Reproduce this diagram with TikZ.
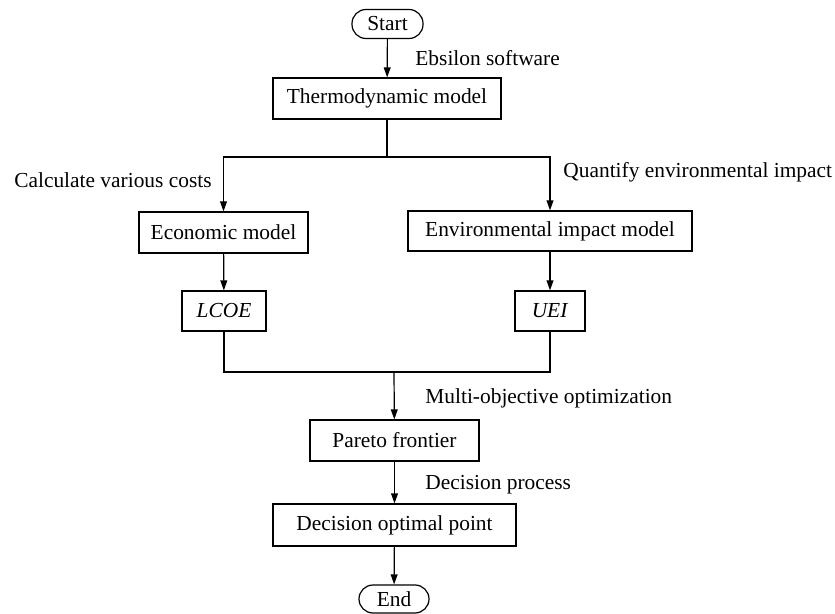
\documentclass[tikz,border=0pt]{standalone}
\usepackage{fontspec}
\setmainfont{Liberation Serif}
\usetikzlibrary{arrows.meta, positioning}

\begin{document}
\begin{tikzpicture}[
    x=0.5pt, y=-0.5pt,
    font=\fontsize{10.7}{13}\selectfont,
    box/.style={draw, line width=0.6pt, inner sep=0pt, text centered, minimum height=20.5pt},
    terminal/.style={draw, line width=0.6pt, inner sep=0pt, rounded corners=7pt, minimum height=14.5pt},
    label/.style={inner sep=0pt},
    arrow/.style={-{Triangle[length=5pt, width=3.4pt]}, line width=0.6pt},
    line/.style={line width=0.6pt}]

\useasboundingbox (0,0) rectangle (835,614);

\node[terminal, minimum width=35.5pt] (start) at (387.5,24) {Start};
\node[box, minimum width=114pt] (thermo) at (387,98.5) {Thermodynamic model};
\node[box, minimum width=84.5pt] (econ) at (223.5,232.5) {Economic model};
\node[box, minimum width=142pt, minimum height=20pt] (env) at (550,231) {Environmental impact model};
\node[box, minimum width=42pt, minimum height=20pt] (lcoe) at (224,311) {\textit{LCOE}};
\node[box, minimum width=35pt, minimum height=20pt] (uei) at (550,311) {\textit{UEI}};
\node[box, minimum width=84.5pt] (pareto) at (394.5,440.5) {Pareto frontier};
\node[box, minimum width=121.5pt, minimum height=21pt] (decision) at (394.5,525) {Decision optimal point};
\node[terminal, minimum width=35pt, minimum height=14pt] (end) at (394,599) {End};

\coordinate (split) at (387,157);
\coordinate (join) at (394,372);

\node[label, anchor=west] (ebsilon) at (415,58) {Ebsilon software};
\node[label, anchor=east] (costs) at (212,180) {Calculate various costs};
\node[label, anchor=west] (quantify) at (563,172) {Quantify environmental impact};
\node[label, anchor=west] (multi) at (425,398) {Multi-objective optimization};
\node[label, anchor=west] (process) at (425,485) {Decision process};

\draw[arrow] (start) -- (thermo);
\draw[line] (thermo) -- (split);
\draw[arrow] (split) -| (econ);
\draw[arrow] (split) -| (env);
\draw[arrow] (econ) -- (lcoe);
\draw[arrow] (env) -- (uei);
\draw[line] (lcoe) |- (join);
\draw[line] (uei) |- (join);
\draw[arrow] (join) -- (pareto);
\draw[arrow] (pareto) -- (decision);
\draw[arrow] (decision) -- (end);

\end{tikzpicture}
\end{document}
